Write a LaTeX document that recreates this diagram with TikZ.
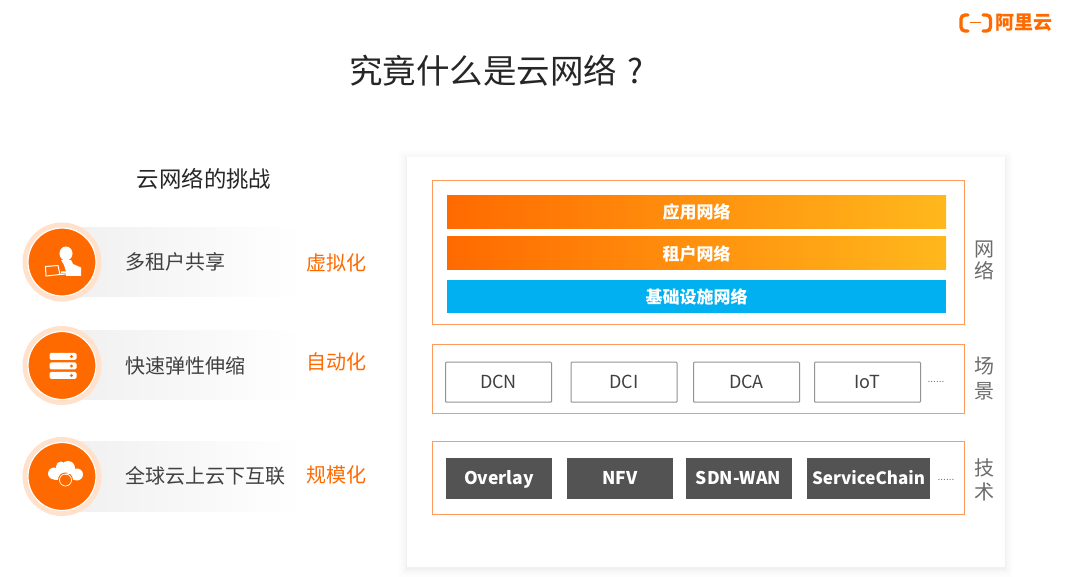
\documentclass[tikz,border=0pt]{standalone}
\usepackage{fontspec}
\setmainfont{Noto Sans CJK SC}
\newfontfamily\dotfont{Liberation Sans}
\usetikzlibrary{calc}
\definecolor{ali}{HTML}{FF6A00}
\definecolor{aliend}{HTML}{FFB81C}
\definecolor{frameor}{HTML}{FF9A5C}
\definecolor{skyb}{HTML}{00B0F0}
\definecolor{darkb}{HTML}{535353}
\definecolor{txt}{HTML}{404040}
\definecolor{halo}{HTML}{FFE1CC}
\tikzset{
  px/.style={inner sep=0pt,outer sep=0pt},
  frame/.style={px,draw=frameor,line width=1pt,fill=white,anchor=north west},
  bar/.style={px,anchor=north west,minimum height=33pt,minimum width=499pt,text=white,font=\fontsize{17}{20}\selectfont\bfseries},
  gradbar/.style={bar,left color=ali,right color=aliend},
  scenebox/.style={px,draw=gray!85,line width=1pt,rounded corners=0.8pt,fill=white,minimum width=106pt,minimum height=40pt,text height=17pt,text depth=4pt,text=txt,font=\fontsize{18}{20}\selectfont},
  techbox/.style={px,fill=darkb,minimum width=106pt,minimum height=40pt,text height=17pt,text depth=4pt,text=white,font=\fontsize{17.5}{20}\selectfont\bfseries},
  side/.style={px,text=gray!85!black,font=\fontsize{20}{22}\selectfont},
  challenge/.style={px,anchor=west,text=txt,font=\fontsize{20}{24}\selectfont},
  answer/.style={px,text=ali,font=\fontsize{20}{24}\selectfont},
  dotsn/.style={px,anchor=base,text=gray!80!black,font=\dotfont\fontsize{10}{10}\selectfont},
  halodisc/.style={circle,px,fill=halo,minimum size=79pt},
  coredisc/.style={circle,px,fill=ali,draw=white,line width=1.2pt,minimum size=68pt},
  band/.style={px,anchor=west,minimum height=69pt,minimum width=240pt,left color=black!6,right color=white},
  icw/.style={draw=white,line width=1pt,fill=none},
}
\begin{document}
\begin{tikzpicture}[x=1pt,y=-1pt]
\useasboundingbox (0,0) rectangle (1080,577);
\fill[white] (0,0) rectangle (1080,577);
% panel soft shadow
\foreach \d/\o in {8/0.006,6/0.008,4/0.01,2/0.012,1/0.014}
  \fill[black,opacity=\o] (407-\d,157-\d+2) rectangle (1005+\d,567+\d+2);
\node[px,fill=white,anchor=north west,minimum width=598pt,minimum height=410pt] (panel) at (407,157) {};
% title
\node[px,anchor=west,text=black!85,font=\fontsize{33.5}{38}\selectfont] (title) at (349,71) {究竟什么是云网络\hspace{11pt}?};
% logo
\draw[ali,line width=3.4pt,line cap=round,rounded corners=4pt] (968,15) -| (961,31) -- (968,31);
\draw[ali,line width=3.4pt,line cap=round,rounded corners=4pt] (983,15) -| (990.5,31) -- (983,31);
\draw[ali,line width=1pt] (970,23) -- (981,23);
\node[px,text=ali,font=\fontsize{19}{22}\selectfont\bfseries] (logotext) at (1024,23) {阿里云};
% left heading
\node[px,text=black!85,font=\fontsize{22.4}{26}\selectfont] (lefthead) at (204,179) {云网络的挑战};
% bands
\node[band] (band1) at (62,262) {};
\node[band] (band2) at (62,365.5) {};
\node[band] (band3) at (62,476.5) {};
% discs
\foreach \n/\yy in {1/262,2/365.5,3/476.5}{
  \node[halodisc] (halo\n) at (62,\yy) {};
  \node[coredisc] (core\n) at (62,\yy) {};
}
% icon 1: user with laptop
\fill[white] (66,253.5) ellipse[x radius=6.5,y radius=7];
\fill[white] (61,260) -- (71,260) -- (73,264) -- (81,267.5) -- (81,276) -- (66,276) -- (66,273.5) -- (61,273.5) -- (61,271.5) -- (66,271.5) -- (64,265) -- cycle;
\draw[icw] (45.5,266.5) -- (58,265.5) -- (60,274.5) -- (46,276) -- cycle;
\draw[white,line width=1pt] (60,274.5) -- (66,274);
% icon 2: server
\foreach \yy in {356.5,366,375.5}{
  \fill[white,rounded corners=1.5pt] (49.5,\yy-3.5) rectangle (76.5,\yy+3.5);
  \fill[ali] (71.5,\yy) circle[radius=1.6];
}
% icon 3: cloud with refresh ring
\fill[white] (61,466.5) circle[radius=5] (68,468) circle[radius=7] (54,473.5) circle[radius=6] (77,474.5) circle[radius=6] (63,473) circle[radius=6];
\fill[white] (54,473) rectangle (77,480);
\fill[ali] (65.5,480) circle[radius=7.5];
\draw[white,line width=0.7pt] (65.5,480) circle[radius=6];
\draw[white,line width=0.9pt] (65,474.5) -- (73,472.5);
% challenge texts
\node[challenge] (c1) at (125,262) {多租户共享};
\node[challenge] (c2) at (125,365.5) {快速弹性伸缩};
\node[challenge] (c3) at (125,476) {全球云上云下互联};
\node[answer] (a1) at (336,262.5) {虚拟化};
\node[answer] (a2) at (336,362) {自动化};
\node[answer] (a3) at (336,475) {规模化};
% frames
\node[frame,minimum width=532pt,minimum height=144pt] (fnet) at (432,181) {};
\node[frame,minimum width=532pt,minimum height=69pt] (fscene) at (432,345) {};
\node[frame,minimum width=532pt,minimum height=72pt] (ftech) at (432,442) {};
% bars
\node[gradbar] (b1) at (447,196) {应用网络};
\node[gradbar] (b2) at (447,237) {租户网络};
\node[bar,fill=skyb] (b3) at (447,280) {基础设施网络};
% scene boxes
\node[scenebox] (s1) at (498.5,382.2) {DCN};
\node[scenebox] (s2) at (624,382.2) {DCI};
\node[scenebox] (s3) at (746.5,382.2) {DCA};
\node[scenebox] (s4) at (867.5,382.2) {IoT};
\node[dotsn] (sd) at (936,383) {......};
% tech boxes
\node[techbox] (t1) at (499,478.5) {Overlay};
\node[techbox] (t2) at (620,478.5) {NFV};
\node[techbox] (t3) at (738.5,478.5) {SDN-WAN};
\node[techbox,minimum width=123pt,font=\fontsize{17}{20}\selectfont\bfseries] (t4) at (868.5,478.5) {ServiceChain};
\node[dotsn] (td) at (946,480) {......};
% side labels
\node[side] (n1) at (984,249) {网};
\node[side] (n2) at (984,271) {络};
\node[side] (n3) at (984,366) {场};
\node[side] (n4) at (984,391) {景};
\node[side] (n5) at (984,468) {技};
\node[side] (n6) at (984,492) {术};
\end{tikzpicture}
\end{document}
